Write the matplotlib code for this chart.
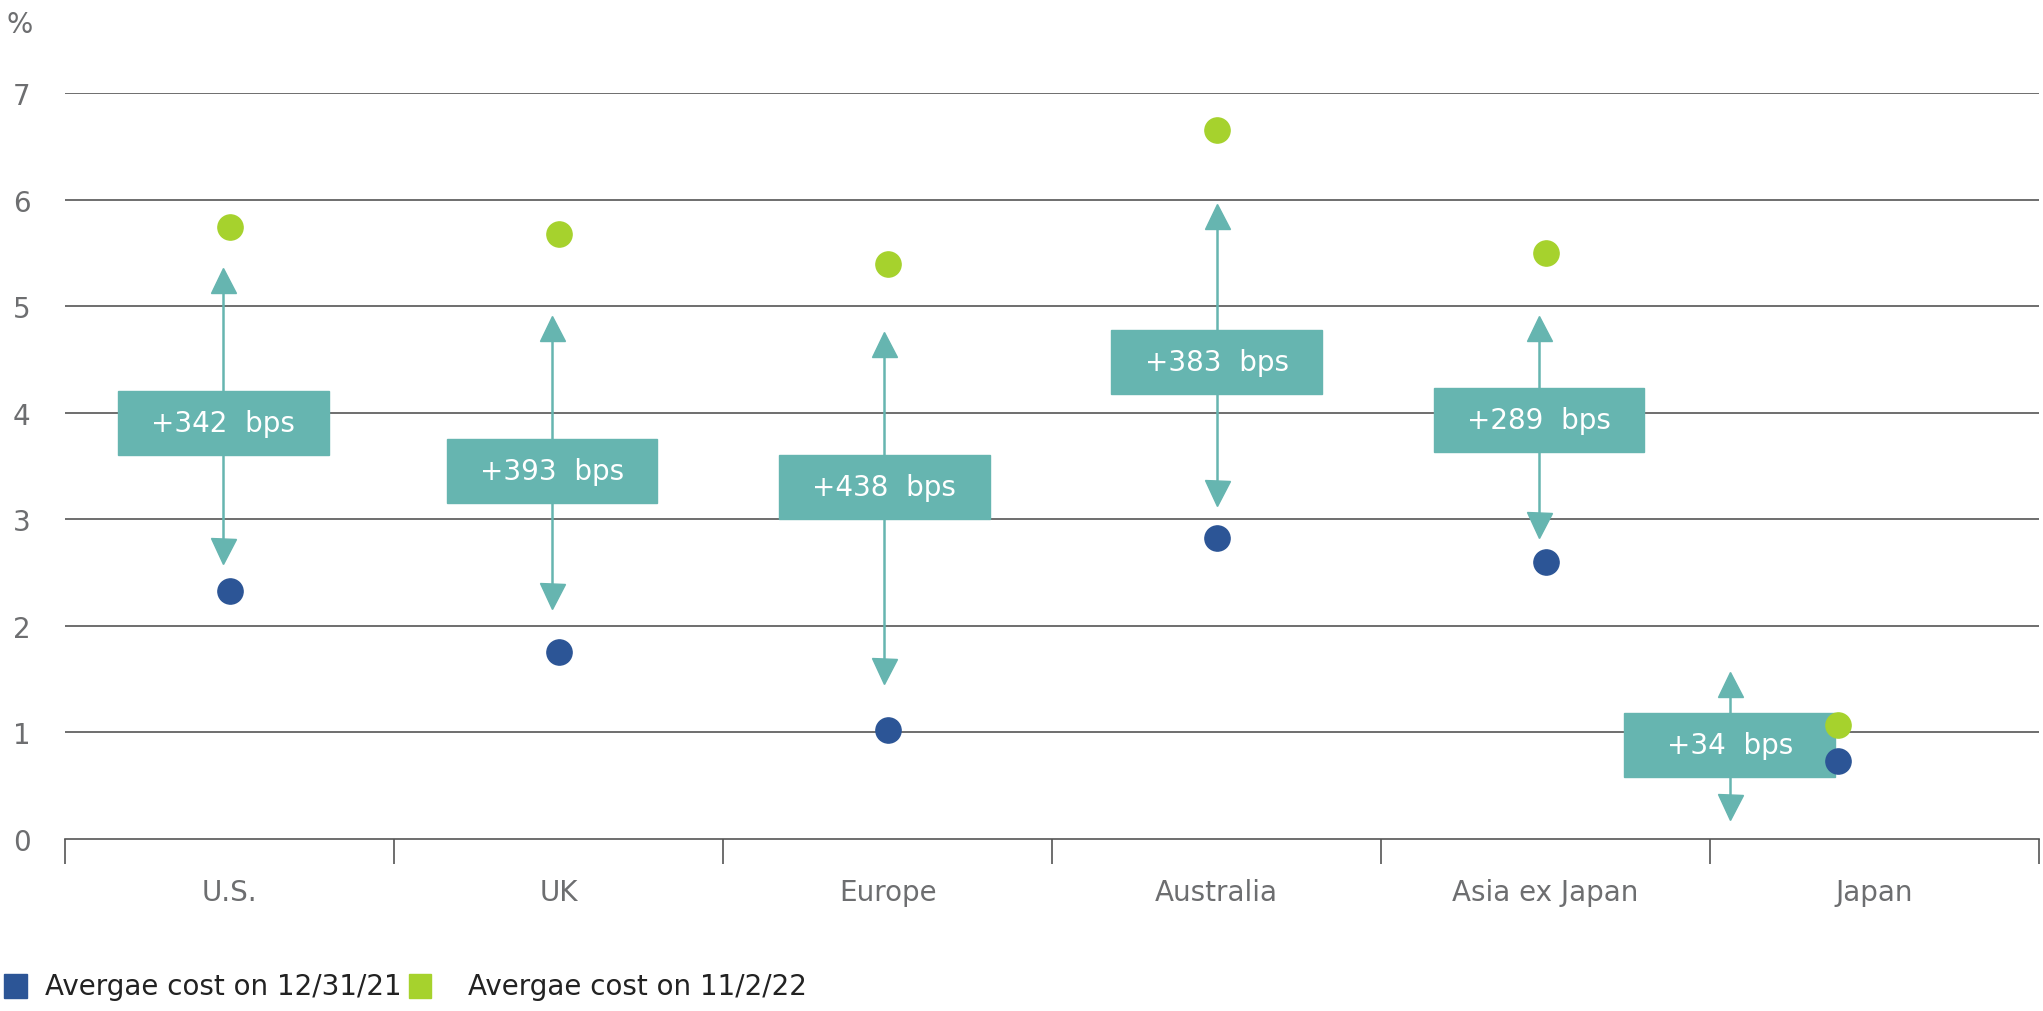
import matplotlib
matplotlib.use("Agg")
import matplotlib.pyplot as plt
from matplotlib.patches import Rectangle, Patch

categories = ["U.S.", "UK", "Europe", "Australia", "Asia ex Japan", "Japan"]
cost_2021 = [2.33, 1.75, 1.02, 2.82, 2.60, 0.73]
cost_2022 = [5.74, 5.68, 5.40, 6.65, 5.50, 1.07]
arrow_low = [2.70, 2.28, 1.58, 3.25, 2.95, 0.30]
arrow_high = [5.25, 4.80, 4.65, 5.85, 4.80, 1.45]
box_center = [3.90, 3.45, 3.30, 4.48, 3.93, 0.88]
labels = ["+342  bps", "+393  bps", "+438  bps", "+383  bps", "+289  bps", "+34  bps"]
dot_offset = [0, 0, 0, 0, 0, -0.11]
arrow_offset = [-0.02, -0.02, -0.01, 0, -0.02, -0.44]

teal = "#66b5b0"; blue = "#2c5596"; green = "#a6d22d"; grey = "#6d6e70"

fig = plt.figure(figsize=(20.43, 10.12), dpi=100)
ax = fig.add_axes([0.032, 0.17, 0.966, 0.737])
ax.set_xlim(-0.5, 5.5)
ax.set_ylim(0, 7)
for y in range(1, 8):
    ax.axhline(y, color="#555555", lw=1.2, zorder=0)
for s in ["top", "right", "left"]:
    ax.spines[s].set_visible(False)
ax.spines["bottom"].set_color("#555555")
ax.spines["bottom"].set_linewidth(1.2)
ax.set_yticks(range(0, 8))
ax.set_yticklabels([str(i) for i in range(8)], fontsize=20, color=grey)
ax.tick_params(axis="y", length=0, pad=25)
ax.set_xticks(range(6))
ax.set_xticklabels(categories, fontsize=20, color=grey)
ax.tick_params(axis="x", length=0, pad=28)
ax.set_xticks([i - 0.5 for i in range(7)], minor=True)
ax.tick_params(axis="x", which="minor", length=18, color="#555555", width=1.2)

bw, bh = 0.64, 0.6
for i in range(6):
    xa = i + arrow_offset[i]
    ax.plot([xa, xa], [arrow_low[i], arrow_high[i]], color=teal, lw=1.8, zorder=2)
    ax.plot(xa, arrow_high[i], marker="^", ms=18, color=teal, zorder=3)
    ax.plot(xa, arrow_low[i], marker="v", ms=18, color=teal, zorder=3)
    ax.add_patch(Rectangle((xa - bw / 2, box_center[i] - bh / 2), bw, bh, color=teal, zorder=4))
    ax.text(xa, box_center[i], labels[i], ha="center", va="center", color="white", fontsize=20, zorder=5)
    xd = i + dot_offset[i]
    ax.scatter(xd, cost_2021[i], s=330, color=blue, zorder=5)
    ax.scatter(xd, cost_2022[i], s=330, color=green, zorder=5)

fig.text(0.003, 0.975, "%", fontsize=20, color=grey, va="center")
fig.patches.append(Rectangle((0.002, 0.013), 0.011, 0.024, color=blue, transform=fig.transFigure))
fig.text(0.022, 0.025, "Avergae cost on 12/31/21", fontsize=20, color="#222222", va="center")
fig.patches.append(Rectangle((0.2, 0.013), 0.011, 0.024, color=green, transform=fig.transFigure))
fig.text(0.229, 0.025, "Avergae cost on 11/2/22", fontsize=20, color="#222222", va="center")
fig.savefig("out.png", dpi=100)
